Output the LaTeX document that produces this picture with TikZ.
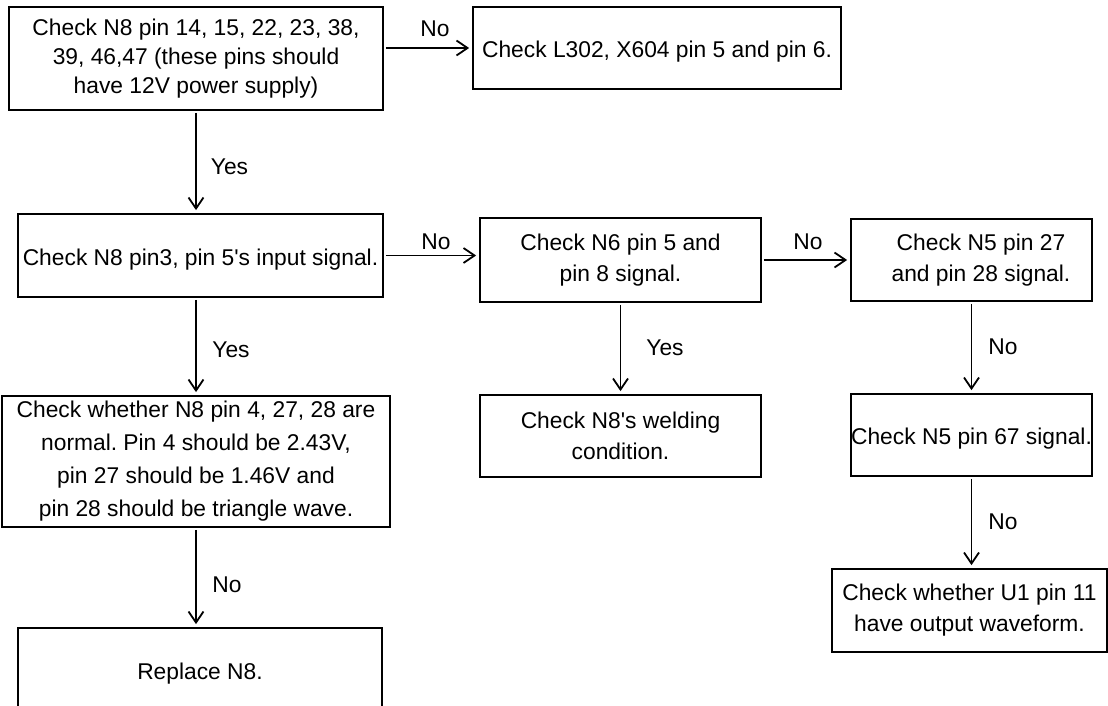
\documentclass[tikz,border=0pt]{standalone}
\usepackage{fontspec}
\setmainfont{Liberation Sans}
\usetikzlibrary{arrows.meta}

\begin{document}
\frenchspacing
\begin{tikzpicture}[x=1pt,y=-1pt,
  every node/.style={font=\fontsize{22.8}{31}\selectfont},
  box/.style={draw, line width=1.8pt, inner sep=0pt, align=center,
    execute at begin node={\rule{0pt}{24pt}}},
  arr/.style={line width=1.8pt, -{Straight Barb[length=11pt,width=15pt]},
    shorten >=3pt, shorten <=2pt},
  lbl/.style={inner sep=0pt}]

\useasboundingbox (0,0) rectangle (1108,706);
\clip (0,0) rectangle (1108,706);

% process boxes
\node[box, minimum width=374pt, minimum height=103pt,
  font=\fontsize{22.8}{29}\selectfont] (b1) at (196,58.5)
  {Check N8 pin 14, 15, 22, 23, 38,\\39, 46,47 (these pins should\\have 12V power supply)};
\node[box, minimum width=368pt, minimum height=82pt] (b2) at (657,48)
  {Check L302, X604 pin 5 and pin 6.};
\node[box, minimum width=365pt, minimum height=83pt] (b3) at (200.5,255.5)
  {Check N8 pin3, pin 5\textquotesingle s input signal.};
\node[box, minimum width=281pt, minimum height=84pt] (b4) at (620.5,260)
  {Check N6 pin 5 and\\pin 8 signal.};
\node[box, minimum width=241pt, minimum height=82pt] (b5) at (971.5,260)
  {\hspace*{19pt}Check N5 pin 27\\\hspace*{19pt}and pin 28 signal.};
\node[box, minimum width=388pt, minimum height=131pt,
  font=\fontsize{22.8}{33}\selectfont] (b6) at (196,461.5)
  {Check whether N8 pin 4, 27, 28 are\\normal. Pin 4 should be 2.43V,\\pin 27 should be 1.46V and\\pin 28 should be triangle wave.};
\node[box, minimum width=281pt, minimum height=82pt] (b7) at (620.5,436)
  {Check N8\textquotesingle s welding\\condition.};
\node[box, minimum width=241pt, minimum height=82pt] (b8) at (971.5,435)
  {Check N5 pin 67 signal.};
\node[box, minimum width=275pt, minimum height=83pt] (b9) at (969.5,610.5)
  {Check whether U1 pin 11\\have output waveform.};
\node[box, minimum width=364pt, minimum height=83pt] (b10) at (200,669.5)
  {Replace N8.};

% connectors
\draw[arr] (b1.east |- b2.west) -- (b2.west);
\draw[arr] (b1.south) -- (b1.south |- b3.north);
\draw[arr] (b3.east) -- (b3.east -| b4.west);
\draw[arr] (b4.east) -- (b4.east -| b5.west);
\draw[arr] (b3.south -| b1.south) -- (b1.south |- b6.north);
\draw[arr] (b4.south) -- (b4.south |- b7.north);
\draw[arr] (b5.south) -- (b5.south |- b8.north);
\draw[arr] (b8.south) -- (b8.south |- b9.north);
\draw[arr] (b6.south) -- (b6.south |- b10.north);

% branch labels
\node[lbl] (l1) at (435,29) {No};
\node[lbl] (l2) at (229.5,167) {Yes};
\node[lbl] (l3) at (436,242) {No};
\node[lbl] (l4) at (808,242) {No};
\node[lbl] (l5) at (231,350) {Yes};
\node[lbl] (l6) at (665,348) {Yes};
\node[lbl] (l7) at (1003,347) {No};
\node[lbl] (l8) at (1003,522) {No};
\node[lbl] (l9) at (227,585) {No};
\end{tikzpicture}
\end{document}
